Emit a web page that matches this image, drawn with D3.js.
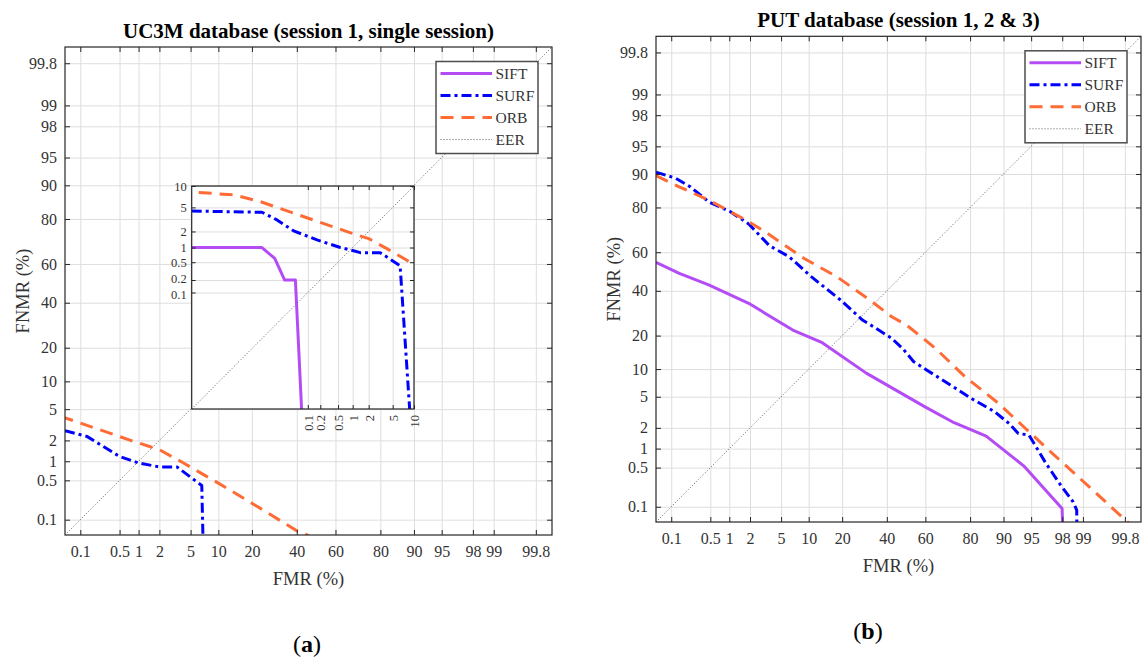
<!DOCTYPE html>
<html>
<head>
<meta charset="utf-8">
<script src="https://cdn.jsdelivr.net/npm/d3@7"></script>
<style>
  body { margin: 0; background: #fff; }
  text { font-family: "Liberation Serif", "DejaVu Serif", serif; }
</style>
</head>
<body>
<div id="chart"></div>
<script>
// Data: [FMR %, FNMR %]
const detTicks = [0.1, 0.5, 1, 2, 5, 10, 20, 40, 60, 80, 90, 95, 98, 99, 99.8];
const insetTicks = [0.1, 0.2, 0.5, 1, 2, 5, 10];
const mainRange = [0.05, 99.9];
const insetRange = [2e-5, 10];

// UC3M (main view)
const ucSurf = [[0.05, 2.7], [0.133, 2.27], [0.5, 1.18], [1, 0.94], [2, 0.82], [3.4, 0.82],
  [6.7, 0.41], [7.2, 0.001]];
const ucOrb = [[3.7e-5, 8.2], [7.1e-4, 7.6], [0.0048, 6.1], [0.043, 4.06], [0.77, 1.99],
  [2, 1.48], [4.06, 0.95], [10, 0.45], [20.9, 0.19], [40.5, 0.059], [45.3, 0.05], [50, 0.035]];
// UC3M (inset zoom)
const ucSiftInset = [[2e-5, 1.0], [0.0054, 1.0], [0.0129, 0.6], [0.0246, 0.2], [0.048, 0.2],
  [0.071, 1e-5]];
const ucSurfInset = [[2e-5, 4.4], [0.0054, 4.2], [0.015, 3.16], [0.043, 2.05], [0.167, 1.4],
  [0.56, 1.0], [1.04, 0.86], [1.4, 0.79], [3.16, 0.79], [6.45, 0.42], [8.9, 1e-5]];

// PUT
const putSift = [[0.05, 54.8], [0.142, 49], [0.47, 43], [1.92, 33.8], [6.8, 22.1], [13.5, 17.5],
  [30, 9.1], [44.4, 6], [59.6, 3.8], [73.6, 2.35], [85.4, 1.53], [93.9, 0.535], [97.99, 0.093],
  [98.1, 0.01]];
const putSurf = [[0.05, 90.4], [0.121, 89], [0.226, 86.7], [0.47, 82], [1.04, 78.4], [1.92, 73.4],
  [3.6, 63.3], [6.2, 57.7], [10.6, 47.3], [19.4, 35.4], [28.3, 26.2], [33.4, 23.4], [42.5, 19],
  [48.2, 15.6], [54, 11.8], [60.6, 9.8], [72, 6.8], [80.8, 4.7], [87.7, 3.3], [91.2, 2.3],
  [93, 1.67], [94.7, 1.58], [95.5, 1.13], [96.7, 0.59], [97.9, 0.25], [98.6, 0.124],
  [98.76, 0.086], [98.78, 0.01]];
const putOrb = [[0.05, 89.6], [0.142, 86.7], [0.47, 82.6], [1.04, 78.4], [1.92, 74.4], [3.4, 69.2],
  [8.9, 56.9], [18.1, 47.3], [31.6, 35.4], [42.5, 27.6], [50.2, 24.1], [65.1, 15.6], [78, 8.4],
  [88.7, 4.2], [93.9, 2.07], [97.3, 0.84], [99.2, 0.234], [99.82, 0.05], [99.9, 0.03]];

const legendKeys = ["SIFT", "SURF", "ORB", "EER"];

const styles = {
  SIFT: { color: "#b44cf5", width: 3, dash: null },
  SURF: { color: "#0000ff", width: 3, dash: "10,4,3,4" },
  ORB: { color: "#ff6b35", width: 3, dash: "13,8" },
  EER: { color: "#333", width: 0.8, dash: "1,2" },
};

// inverse normal CDF (Acklam)
function probit(p) {
  const a = [-3.969683028665376e+01, 2.209460984245205e+02, -2.759285104469687e+02, 1.383577518672690e+02, -3.066479806614716e+01, 2.506628277459239e+00];
  const b = [-5.447609879822406e+01, 1.615858368580409e+02, -1.556989798598866e+02, 6.680131188771972e+01, -1.328068155288572e+01];
  const c = [-7.784894002430293e-03, -3.223964580411365e-01, -2.400758277161838e+00, -2.549732539343734e+00, 4.374664141464968e+00, 2.938163982698783e+00];
  const d = [7.784695709041462e-03, 3.224671290700398e-01, 2.445134137142996e+00, 3.754408661907416e+00];
  const pl = 0.02425;
  if (p < pl) {
    const q = Math.sqrt(-2 * Math.log(p));
    return (((((c[0] * q + c[1]) * q + c[2]) * q + c[3]) * q + c[4]) * q + c[5]) / ((((d[0] * q + d[1]) * q + d[2]) * q + d[3]) * q + 1);
  }
  if (p > 1 - pl) {
    const q = Math.sqrt(-2 * Math.log(1 - p));
    return -(((((c[0] * q + c[1]) * q + c[2]) * q + c[3]) * q + c[4]) * q + c[5]) / ((((d[0] * q + d[1]) * q + d[2]) * q + d[3]) * q + 1);
  }
  const q = p - 0.5, r = q * q;
  return (((((a[0] * r + a[1]) * r + a[2]) * r + a[3]) * r + a[4]) * r + a[5]) * q / (((((b[0] * r + b[1]) * r + b[2]) * r + b[3]) * r + b[4]) * r + 1);
}
const pr = (v) => probit(v / 100);

const svg = d3.select("#chart").append("svg")
  .attr("width", 1142).attr("height", 657);

const panels = [
  {
    id: "a", x0: 65, x1: 552, y0: 47, y1: 535, tagX: 307, tagY: 652,
    title: "UC3M database (session 1, single session)",
    series: [["SURF", ucSurf], ["ORB", ucOrb]],
    inset: { x0: 191.7, x1: 414, y0: 186, y1: 409,
      series: [["SIFT", ucSiftInset], ["SURF", ucSurfInset], ["ORB", ucOrb]] },
  },
  {
    id: "b", x0: 656, x1: 1141, y0: 36.3, y1: 522, tagX: 868, tagY: 639,
    title: "PUT database (session 1, 2 & 3)",
    series: [["SIFT", putSift], ["SURF", putSurf], ["ORB", putOrb]],
  },
];

function styleLine(sel, key) {
  const s = styles[key];
  sel.attr("fill", "none")
    .attr("stroke", s.color)
    .attr("stroke-width", s.width)
    .attr("stroke-dasharray", s.dash)
    .attr("stroke-linejoin", "round");
}

// draws a probit-probit box: grid, ticks, EER line and curves
function drawAxes(g, box, range, ticks, series, clipId, opts) {
  const w = box.x1 - box.x0, h = box.y1 - box.y0;
  const x = d3.scaleLinear().domain(range.map(pr)).range([0, w]);
  const y = d3.scaleLinear().domain(range.map(pr)).range([h, 0]);
  const tv = ticks.map(pr);
  const fmt = (d, i) => ticks[i];

  const c = g.append("g").attr("transform", `translate(${box.x0},${box.y0})`);
  c.append("rect").attr("width", w).attr("height", h).attr("fill", "#fff");

  // grid
  const gx = c.append("g").attr("transform", `translate(0,${h})`)
    .call(d3.axisBottom(x).tickValues(tv).tickSize(-h).tickFormat(""));
  const gy = c.append("g").call(d3.axisLeft(y).tickValues(tv).tickSize(-w).tickFormat(""));
  [gx, gy].forEach((a) => {
    a.select(".domain").remove();
    a.selectAll("line").attr("stroke", "#dedede").attr("stroke-width", 1);
  });

  c.append("clipPath").attr("id", clipId)
    .append("rect").attr("width", w).attr("height", h);
  const plot = c.append("g").attr("clip-path", `url(#${clipId})`);

  const line = d3.line().x((d) => x(pr(d[0]))).y((d) => y(pr(d[1])));
  plot.append("path").datum([[range[0], range[0]], [range[1], range[1]]])
    .attr("d", line).call(styleLine, "EER");
  series.forEach(([key, data]) => {
    plot.append("path").datum(data).attr("d", line).call(styleLine, key);
  });

  // inward tick marks on all four sides + labels
  const ts = opts.tick;
  const ax = [
    c.append("g").attr("transform", `translate(0,${h})`)
      .call(d3.axisBottom(x).tickValues(tv).tickSize(-ts).tickPadding(opts.padX).tickFormat(fmt)),
    c.append("g").call(d3.axisTop(x).tickValues(tv).tickSize(-ts).tickFormat("")),
    c.append("g").call(d3.axisLeft(y).tickValues(tv).tickSize(-ts).tickPadding(opts.padY).tickFormat(fmt)),
    c.append("g").attr("transform", `translate(${w},0)`)
      .call(d3.axisRight(y).tickValues(tv).tickSize(-ts).tickFormat("")),
  ];
  ax.forEach((a) => {
    a.select(".domain").remove();
    a.selectAll("line").attr("stroke", "#262626");
    a.selectAll("text").attr("fill", "#333").style("font-size", opts.font + "px")
      .style("font-family", '"Liberation Serif", serif');
  });
  if (opts.rotateX) {
    ax[0].selectAll("text")
      .attr("transform", "rotate(-90)")
      .attr("text-anchor", "end")
      .attr("x", -opts.padX).attr("y", 0).attr("dy", "0.35em");
    // the two lowest y labels sit very close: nudge them apart a little
    ax[2].selectAll("text")
      .attr("dy", (d, i) => (i === 0 ? "0.5em" : i === 1 ? "0.2em" : "0.32em"));
  }

  c.append("rect").attr("width", w).attr("height", h)
    .attr("fill", "none").attr("stroke", "#262626").attr("stroke-width", 1.2);
  return c;
}

panels.forEach((p) => {
  const g = svg.append("g");
  const cx = (p.x0 + p.x1) / 2, cy = (p.y0 + p.y1) / 2;

  drawAxes(g, p, mainRange, detTicks, p.series, "clip-" + p.id,
    { tick: 5, padX: 11, padY: 8, font: 16 });

  if (p.inset) {
    drawAxes(g, p.inset, insetRange, insetTicks, p.inset.series, "clip-inset-" + p.id,
      { tick: 4, padX: 6, padY: 5, font: 12.5, rotateX: true });
  }

  // title
  g.append("text").attr("x", cx).attr("y", p.y0 - 9)
    .attr("text-anchor", "middle").style("font-size", "21px").style("font-weight", "bold")
    .attr("fill", "#000").text(p.title);

  // axis labels
  g.append("text").attr("x", cx).attr("y", p.y1 + 50)
    .attr("text-anchor", "middle").style("font-size", "18.5px").attr("fill", "#333")
    .text("FMR (%)");
  g.append("text")
    .attr("transform", `translate(${p.x0 - 36},${cy}) rotate(-90)`)
    .attr("text-anchor", "middle").style("font-size", "18.5px").attr("fill", "#333")
    .text("FNMR (%)");

  // legend
  const lw = 102, lh = 92;
  const lg = g.append("g").attr("transform", `translate(${p.x1 - 14 - lw},${p.y0 + 14.5})`);
  lg.append("rect").attr("width", lw).attr("height", lh)
    .attr("fill", "#fff").attr("stroke", "#4d4d4d").attr("stroke-width", 1.5);
  legendKeys.forEach((k, i) => {
    const yy = 12 + i * 22;
    lg.append("line").attr("x1", 4.5).attr("x2", 56).attr("y1", yy).attr("y2", yy).call(styleLine, k);
    lg.append("text").attr("x", 59.5).attr("y", yy).attr("dy", "0.35em")
      .style("font-size", "15.5px").attr("fill", "#333").text(k);
  });

  // panel tag
  const tag = g.append("text").attr("x", p.tagX).attr("y", p.tagY)
    .attr("text-anchor", "middle").style("font-size", "24px").attr("fill", "#000");
  tag.append("tspan").text("(");
  tag.append("tspan").style("font-weight", "bold").text(p.id);
  tag.append("tspan").text(")");
});
</script>
</body>
</html>
